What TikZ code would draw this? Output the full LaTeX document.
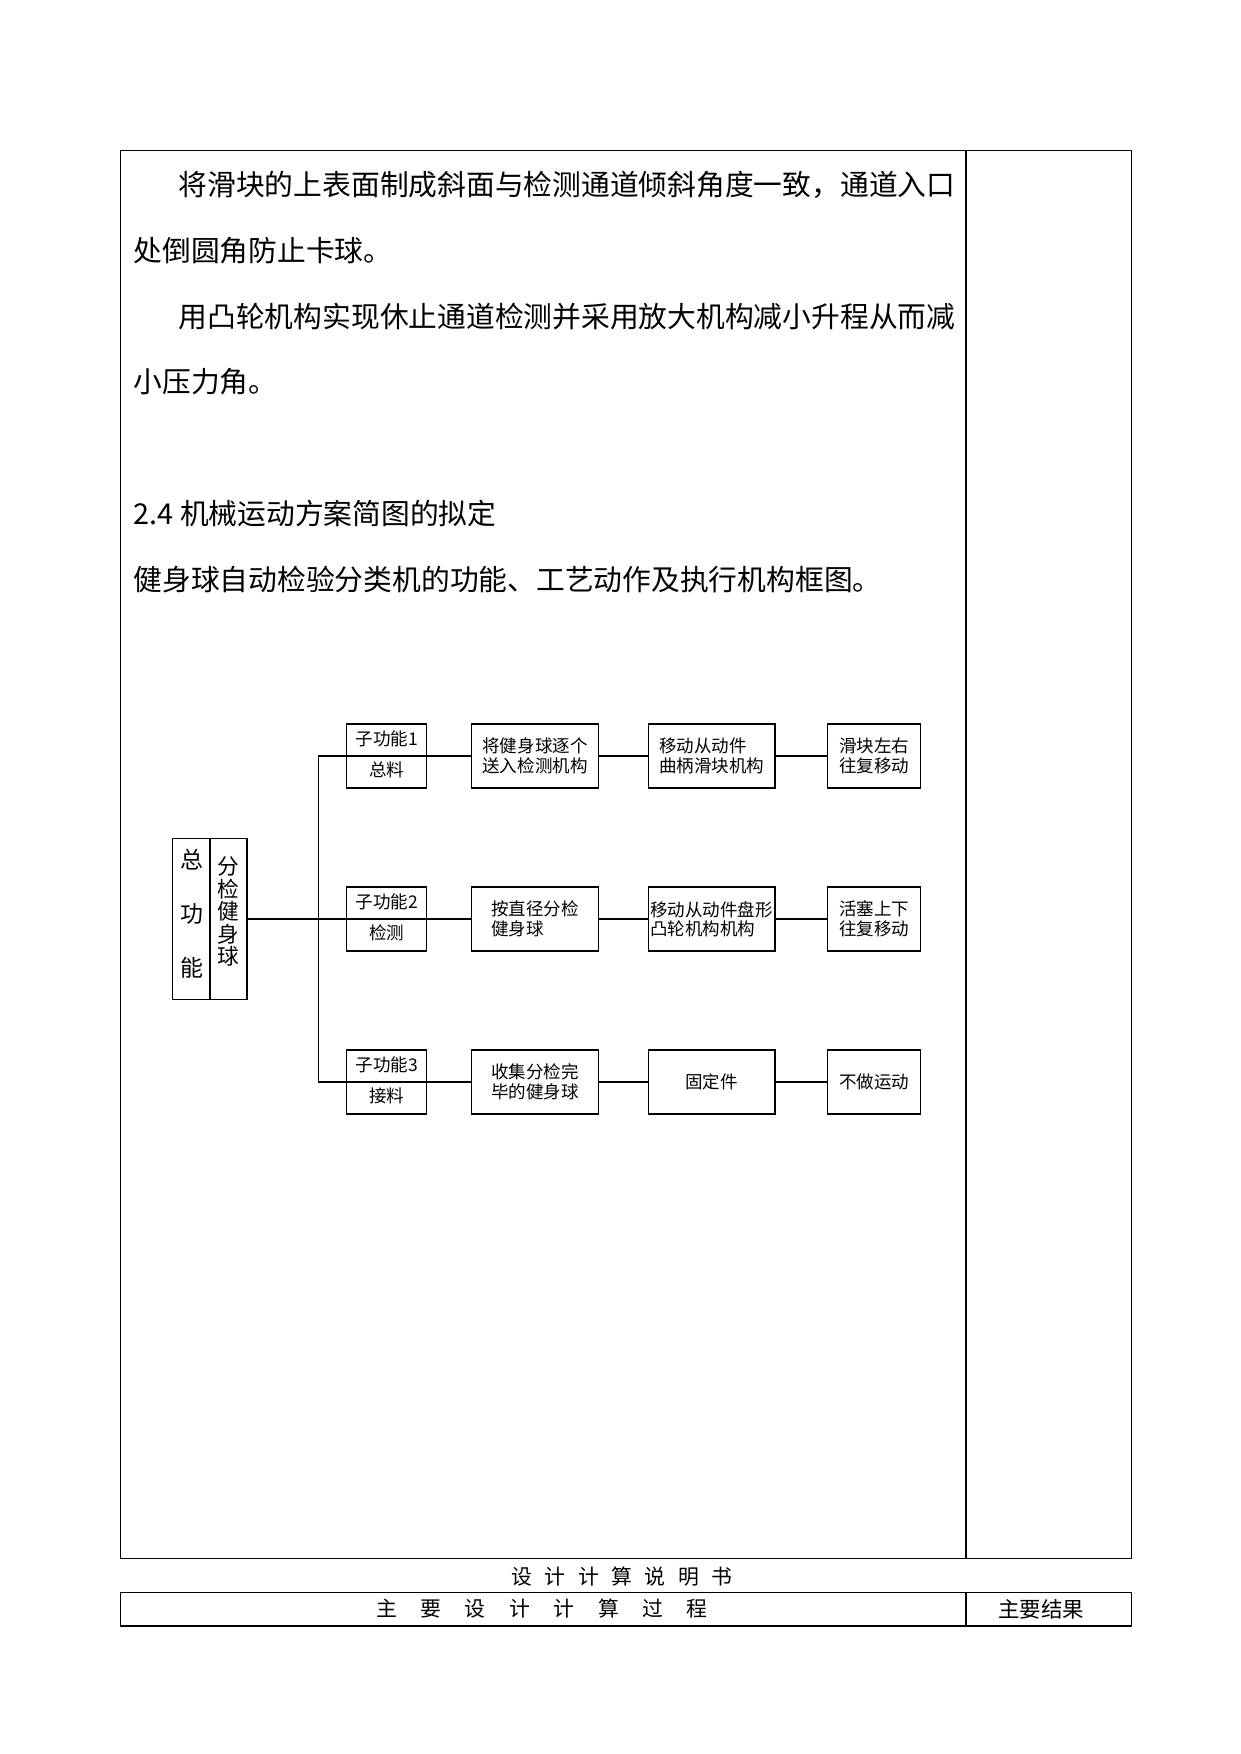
\documentclass[tikz,border=0pt]{standalone}
\usepackage{fontspec}
\newfontfamily\cjk{Noto Sans CJK SC}
\usetikzlibrary{positioning}

\begin{document}
\begin{tikzpicture}[x=0.4797pt,y=-0.4797pt,line width=0.6pt,
  every node/.style={inner sep=0pt},
  bodytext/.style={anchor=west,font=\cjk\fontsize{13.8}{16}\selectfont},
  foottext/.style={font=\cjk\fontsize{10}{12}\selectfont},
  boxtext/.style={align=left,font=\cjk\fontsize{8.4}{9.3}\selectfont},
  subtext/.style={font=\cjk\fontsize{8.4}{9.3}\selectfont},
  subbox/.style={draw,minimum width=38.4pt,minimum height=30.8pt},
  actbox/.style={draw,minimum width=60.7pt,minimum height=30.8pt,boxtext},
  movebox/.style={draw,minimum width=44.6pt,minimum height=30.8pt,boxtext}]
        \useasboundingbox (0,0) rectangle (1241,1754);
        % page frame
        \draw (120.5,150.7) rectangle (1131.7,1558.3);
        \draw (966,150.7) -- (966,1558.3);
        \draw (120.5,1592.3) rectangle (1131.7,1626);
        \draw (966,1592.3) -- (966,1626);
        \node[foottext] (title) at (622,1577) {设\hspace{6pt}计\hspace{6pt}计\hspace{6pt}算\hspace{6pt}说\hspace{6pt}明\hspace{6pt}书};
        \node[foottext] (process) at (542,1609) {主\hspace{11.3pt}要\hspace{11.3pt}设\hspace{11.3pt}计\hspace{11.3pt}计\hspace{11.3pt}算\hspace{11.3pt}过\hspace{11.3pt}程};
        \node[font=\cjk\fontsize{10.3}{12}\selectfont] (result) at (1041,1609) {主要结果};

        % text
        \node[bodytext] (line1) at (178,185) {将滑块的上表面制成斜面与检测通道倾斜角度一致，通道入口};
        \node[bodytext] (line2) at (133,250.7) {处倒圆角防止卡球。};
        \node[bodytext] (line3) at (178,316.7) {用凸轮机构实现休止通道检测并采用放大机构减小升程从而减};
        \node[bodytext] (line4) at (133,381.6) {小压力角。};
        \node[bodytext] (head) at (133,513.7) {2.4 机械运动方案简图的拟定};
        \node[bodytext] (line5) at (133,579.7) {健身球自动检验分类机的功能、工艺动作及执行机构框图。};

        % main function
        \draw (209.9,919) node[draw,minimum width=35.6pt,minimum height=77.2pt] (total) {};
        \draw (total.north) -- (total.south);
        \node[align=center,font=\cjk\fontsize{11}{26}\selectfont] (totalL) at (191.7,914) {总\\功\\能};
        \node[align=center,font=\cjk\fontsize{10.4}{10.8}\selectfont] (totalR) at (228.5,911.5) {分\\检\\健\\身\\球};

        % sub functions
        \draw (386.7,756) node[subbox] (sub1) {};
        \draw (386.7,919) node[subbox] (sub2) {};
        \draw (386.7,1082) node[subbox] (sub3) {};
        \node[subtext,above=4pt of sub1.center] (sub1top) {子功能1};
        \node[subtext,below=2.5pt of sub1.center] (sub1bot) {总料};
        \node[subtext,above=4pt of sub2.center] (sub2top) {子功能2};
        \node[subtext,below=2.5pt of sub2.center] (sub2bot) {检测};
        \node[subtext,above=4pt of sub3.center] (sub3top) {子功能3};
        \node[subtext,below=2.5pt of sub3.center] (sub3bot) {接料};

        % actions, mechanisms, motions
        \draw (535,756) node[actbox] (act1) {将健身球逐个\\送入检测机构};
        \draw (535,919) node[actbox] (act2) {按直径分检\\健身球};
        \draw (535,1082) node[actbox] (act3) {收集分检完\\毕的健身球};
        \draw (711.7,756) node[actbox] (mech1) {移动从动件\\曲柄滑块机构};
        \draw (711.7,919) node[actbox] (mech2) {移动从动件盘形\\凸轮机构机构};
        \draw (711.7,1082) node[actbox] (mech3) {固定件};
        \draw (874.2,756) node[movebox] (move1) {滑块左右\\往复移动};
        \draw (874.2,919) node[movebox] (move2) {活塞上下\\往复移动};
        \draw (874.2,1082) node[movebox] (move3) {不做运动};

        % connectors
        \coordinate (fork) at (318.3,919);
        \draw (total.east) -- (sub2.west);
        \draw (sub1.west) -- (sub1.west -| fork) -- (sub3.west -| fork) -- (sub3.west);
        \draw (sub1.west) -- (sub1.east) -- (act1.west);
        \draw (sub2.west) -- (sub2.east) -- (act2.west);
        \draw (sub3.west) -- (sub3.east) -- (act3.west);
        \draw (act1.east) -- (mech1.west);
        \draw (act2.east) -- (mech2.west);
        \draw (act3.east) -- (mech3.west);
        \draw (mech1.east) -- (move1.west);
        \draw (mech2.east) -- (move2.west);
        \draw (mech3.east) -- (move3.west);
\end{tikzpicture}
\end{document}
